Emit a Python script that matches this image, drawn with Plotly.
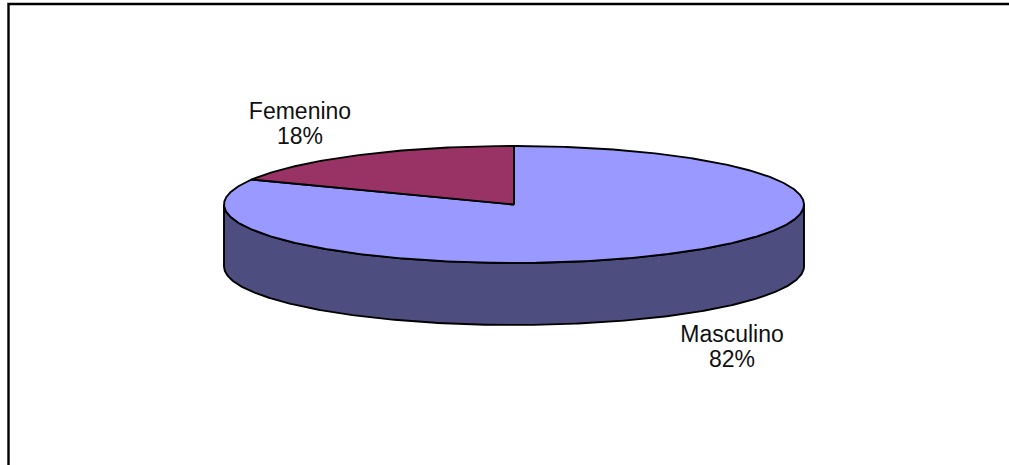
import numpy as np
import plotly.graph_objects as go

categories = ["Masculino", "Femenino"]
values = [82, 18]
top_colors = ["#9999FF", "#993366"]
side_colors = ["#4D4D80", "#4D1A33"]
label_x = [732, 300]
label_y = [336, 113.5]

CX, CY, RX, RY, DEPTH = 514, 204.5, 290, 58.5, 62
LINE_H = 25
FONT = "Liberation Sans, Arial, sans-serif"


def rim(a0, a1, drop=0.0):
    """Points on the ellipse; angle in degrees clockwise from 12 o'clock."""
    n = max(2, int(abs(a1 - a0) * 2))
    t = np.radians(np.linspace(a0, a1, n))
    return CX + RX * np.sin(t), CY - RY * np.cos(t) + drop


fig = go.Figure()
line = dict(color="black", width=1.9)

# side wall: the visible front half (90 deg to 270 deg) of the rim
tx, ty = rim(90, 270)
bx, by = rim(270, 90, DEPTH)
fig.add_trace(go.Scatter(
    x=np.r_[tx, bx, tx[0]], y=np.r_[ty, by, ty[0]],
    mode="lines", fill="toself", fillcolor=side_colors[0], line=line,
    hoverinfo="skip", showlegend=False))

# top slices, clockwise from 12 o'clock
total = sum(values)
start = 0.0
for name, val, col in zip(categories, values, top_colors):
    end = start + 360.0 * val / total
    ax, ay = rim(start, end)
    fig.add_trace(go.Scatter(
        x=np.r_[CX, ax, CX], y=np.r_[CY, ay, CY],
        mode="lines", fill="toself", fillcolor=col, line=line,
        name=name, hoverinfo="name", showlegend=False))
    start = end

# labels
pct = [f"{round(100 * v / total)}%" for v in values]
fig.add_trace(go.Scatter(
    x=label_x + label_x,
    y=label_y + [y + LINE_H for y in label_y],
    text=categories + pct,
    mode="text", textposition="middle center",
    textfont=dict(family=FONT, size=23, color="#111111"),
    hoverinfo="skip", showlegend=False))

fig.update_layout(
    width=1009, height=465,
    margin=dict(l=0, r=0, t=0, b=0),
    paper_bgcolor="white", plot_bgcolor="white",
    xaxis=dict(range=[0, 1009], visible=False, fixedrange=True),
    yaxis=dict(range=[465, 0], visible=False, fixedrange=True),
    shapes=[dict(type="path", path="M 8.5 470 L 8.5 4 L 1012 4",
                 xref="x", yref="y", line=dict(color="black", width=2.4))],
)

fig.write_html("out.html", config=dict(displayModeBar=False),
               post_script="document.body.style.margin='0';")
